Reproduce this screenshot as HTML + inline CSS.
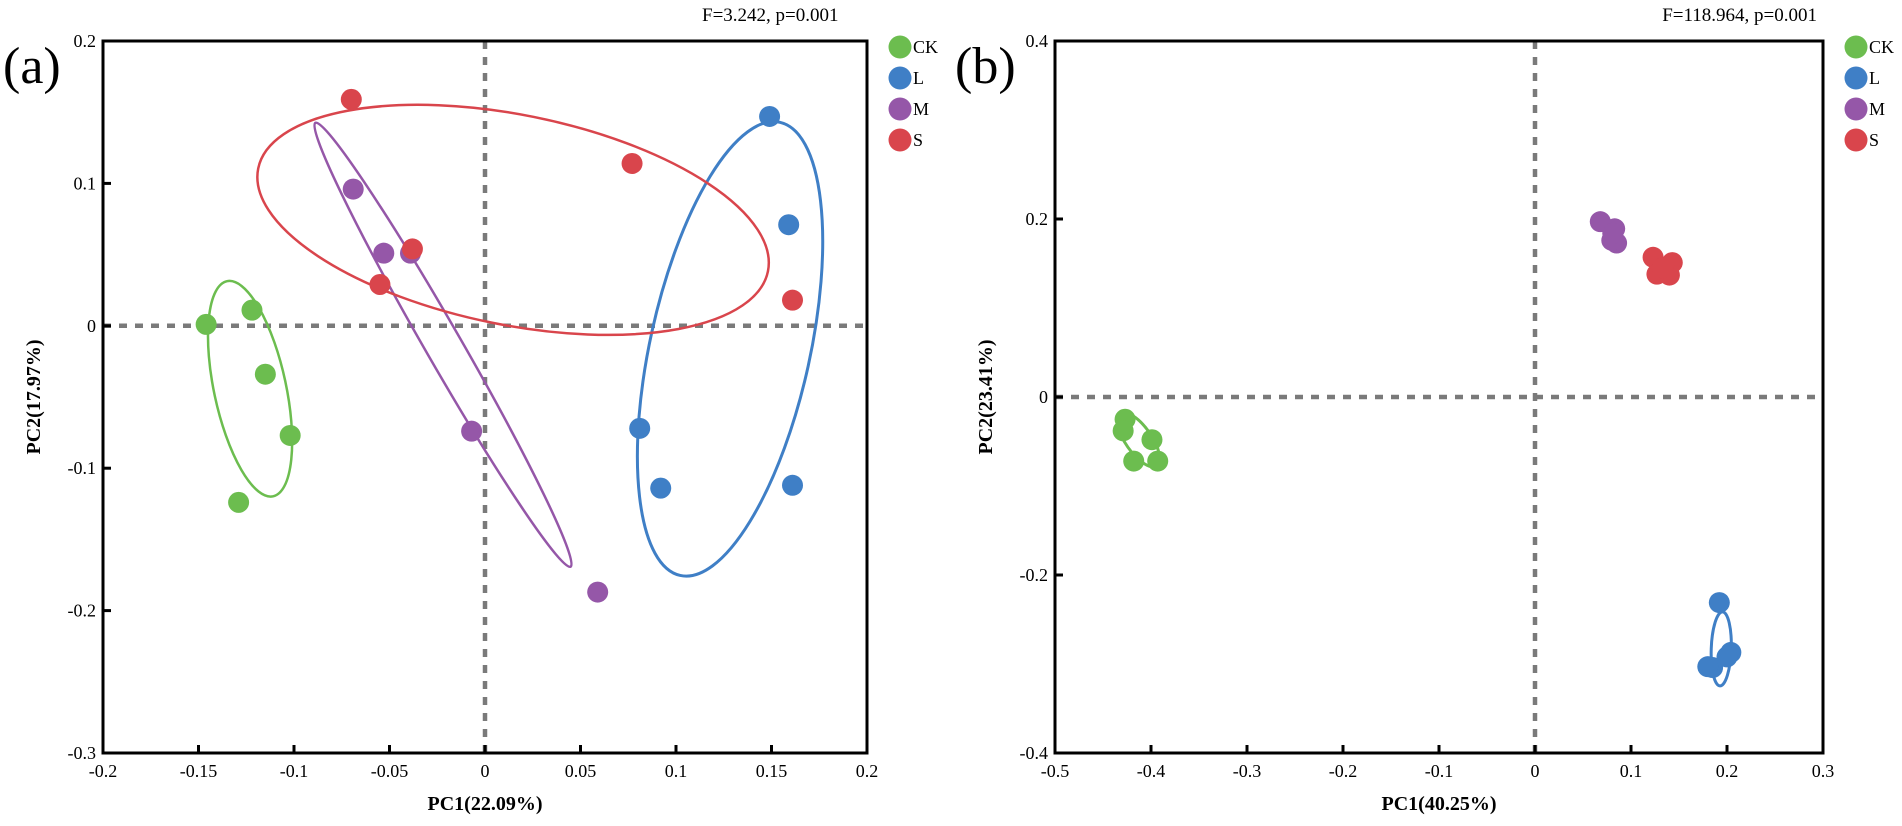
<!DOCTYPE html>
<html><head><meta charset="utf-8"><style>
html,body{margin:0;padding:0;background:#fff;width:1902px;height:826px;overflow:hidden}
svg{display:block;font-family:"Liberation Serif",serif}
</style></head><body>
<svg id="chart" width="1902" height="826" viewBox="0 0 1902 826" xmlns="http://www.w3.org/2000/svg"></svg>
<script>
const groups = ["CK","L","M","S"];
const colors = {CK:"#6cbd4f",L:"#3f7fc6",M:"#9557a8",S:"#d9454c"};
// Panel A data
const aXTicks = [-0.2,-0.15,-0.1,-0.05,0,0.05,0.1,0.15,0.2];
const aYTicks = [0.2,0.1,0,-0.1,-0.2,-0.3];
const aCK_x = [-0.146,-0.122,-0.115,-0.102,-0.129];
const aCK_y = [0.001,0.011,-0.034,-0.077,-0.124];
const aL_x = [0.149,0.159,0.081,0.092,0.161];
const aL_y = [0.147,0.071,-0.072,-0.114,-0.112];
const aM_x = [-0.069,-0.053,-0.039,-0.007,0.059];
const aM_y = [0.096,0.051,0.051,-0.074,-0.187];
const aS_x = [-0.070,0.077,-0.038,-0.055,0.161];
const aS_y = [0.159,0.114,0.054,0.029,0.018];
const aEllCenterX = [-0.1230,0.1283,-0.0220,0.0147];
const aEllCenterY = [-0.0442,-0.0162,-0.0133,0.0744];
// Panel B data
const bXTicks = [-0.5,-0.4,-0.3,-0.2,-0.1,0,0.1,0.2,0.3];
const bYTicks = [0.4,0.2,0,-0.2,-0.4];
const bCK_x = [-0.427,-0.429,-0.399,-0.418,-0.393];
const bCK_y = [-0.025,-0.038,-0.048,-0.072,-0.072];
const bL_x = [0.192,0.204,0.185,0.200,0.180];
const bL_y = [-0.231,-0.287,-0.304,-0.292,-0.303];
const bM_x = [0.068,0.083,0.085,0.080,0.081];
const bM_y = [0.197,0.189,0.173,0.176,0.184];
const bS_x = [0.123,0.143,0.127,0.140,0.133];
const bS_y = [0.157,0.151,0.138,0.137,0.145];
const bEllCenterX = [-0.413,0.194];
const bEllCenterY = [-0.048,-0.283];

const NS="http://www.w3.org/2000/svg";
const svg=document.getElementById('chart');
function mk(tag,attrs,parent,text){const e=document.createElementNS(NS,tag);for(const k in attrs)e.setAttribute(k,attrs[k]);if(text!==undefined)e.textContent=text;(parent||svg).appendChild(e);return e;}

function panel(cfg){
  const g=mk('g',{});
  
  
  const sx=v=>cfg.L+(v-cfg.xmin)/(cfg.xmax-cfg.xmin)*(cfg.R-cfg.L);
  const sy=v=>cfg.B-(v-cfg.ymin)/(cfg.ymax-cfg.ymin)*(cfg.B-cfg.T);
  // dashed zero lines
  const zx=mk('line',{x1:sx(0),x2:sx(0),y1:cfg.T,y2:cfg.B,stroke:"#7a7a7a","stroke-width":4.5,"stroke-dasharray":"8 8"},g);
  
  
  const zy=mk('line',{x1:cfg.L,x2:cfg.R,y1:sy(0),y2:sy(0),stroke:"#7a7a7a","stroke-width":4.5,"stroke-dasharray":"8 8"},g);
  
  
  // ellipses
  cfg.ells.forEach(el=>{
    const cx=sx(el.cx),cy=sy(el.cy);
    const e=mk('ellipse',{cx:cx,cy:cy,rx:el.rx,ry:el.ry,transform:`rotate(${el.ang} ${cx} ${cy})`,fill:"none",stroke:colors[el.g],"stroke-width":el.w},g);
    
    
  });
  // points
  cfg.series.forEach(s=>{
    s.x.forEach((v,i)=>{
      const c=mk('circle',{cx:sx(v),cy:sy(s.y[i]),r:10.5,fill:colors[s.g]},g);
      
      
    });
  });
  // frame
  const fr=mk('rect',{x:cfg.L,y:cfg.T,width:cfg.R-cfg.L,height:cfg.B-cfg.T,fill:"none",stroke:"#000","stroke-width":3},g);
  
  
  cfg.xt.forEach((v,i)=>{
    const x=sx(v);
    if(i>0&&i<cfg.xt.length-1){const t=mk('line',{x1:x,x2:x,y1:cfg.B,y2:cfg.B-8,stroke:"#000","stroke-width":3},g);
      
      }
    const l=mk('text',{x:x,y:cfg.B+24,"text-anchor":"middle","font-size":18,fill:"#000"},g,String(v));
    
    
  });
  cfg.yt.forEach((v,i)=>{
    const y=sy(v);
    if(i>0&&i<cfg.yt.length-1){const t=mk('line',{x1:cfg.L,x2:cfg.L+8,y1:y,y2:y,stroke:"#000","stroke-width":3},g);
      
      }
    const l=mk('text',{x:cfg.L-7,y:y+6,"text-anchor":"end","font-size":18,fill:"#000"},g,String(v));
    
    
  });
  const xt=mk('text',{x:(cfg.L+cfg.R)/2,y:810,"text-anchor":"middle","font-size":20,"font-weight":"bold"},g,cfg.xTitle);
  
  
  const ytx=cfg.L-63, yty=(cfg.T+cfg.B)/2;
  const yt=mk('text',{x:ytx,y:yty,"text-anchor":"middle","font-size":20,"font-weight":"bold",transform:`rotate(-90 ${ytx} ${yty})`},g,cfg.yTitle);
  
  
  const pl=mk('text',{x:cfg.L-100,y:83,"font-size":52},g,cfg.label);
  
  
  const st=mk('text',{x:cfg.statX,y:21,"text-anchor":cfg.statAnchor,"font-size":19},g,cfg.stat);
  
  
  // legend
  groups.forEach((gname,i)=>{
    const lg=mk('g',{},g);
    
    
    const yy=47+i*31;
    mk('circle',{cx:cfg.R+33,cy:yy,r:11.5,fill:colors[gname]},lg);
    mk('text',{x:cfg.R+46,y:yy+6,"font-size":18},lg,gname);
  });
}

panel({name:'panel-a',L:103,R:867,T:41,B:753,xmin:-0.2,xmax:0.2,ymin:-0.3,ymax:0.2,
  xt:aXTicks,yt:aYTicks,xTitle:'PC1(22.09%)',yTitle:'PC2(17.97%)',label:'(a)',
  stat:'F=3.242, p=0.001',statX:702,statAnchor:'start',
  ells:[
    {g:'CK',cx:aEllCenterX[0],cy:aEllCenterY[0],rx:110,ry:36,ang:77.9,w:2.5},
    {g:'L',cx:aEllCenterX[1],cy:aEllCenterY[1],rx:232,ry:80,ang:102.4,w:3},
    {g:'M',cx:aEllCenterX[2],cy:aEllCenterY[2],rx:256,ry:18,ang:60.1,w:2.5},
    {g:'S',cx:aEllCenterX[3],cy:aEllCenterY[3],rx:260,ry:105,ang:11.4,w:2.5}
  ],
  series:[{g:'CK',x:aCK_x,y:aCK_y},{g:'L',x:aL_x,y:aL_y},{g:'M',x:aM_x,y:aM_y},{g:'S',x:aS_x,y:aS_y}]
});
panel({name:'panel-b',L:1055,R:1823,T:41,B:753,xmin:-0.5,xmax:0.3,ymin:-0.4,ymax:0.4,
  xt:bXTicks,yt:bYTicks,xTitle:'PC1(40.25%)',yTitle:'PC2(23.41%)',label:'(b)',
  stat:'F=118.964, p=0.001',statX:1817,statAnchor:'end',
  ells:[
    {g:'CK',cx:bEllCenterX[0],cy:bEllCenterY[0],rx:32,ry:13,ang:55,w:3},
    {g:'L',cx:bEllCenterX[1],cy:bEllCenterY[1],rx:37,ry:10,ang:92,w:3}
  ],
  series:[{g:'CK',x:bCK_x,y:bCK_y},{g:'L',x:bL_x,y:bL_y},{g:'M',x:bM_x,y:bM_y},{g:'S',x:bS_x,y:bS_y}]
});
</script>
</body></html>
